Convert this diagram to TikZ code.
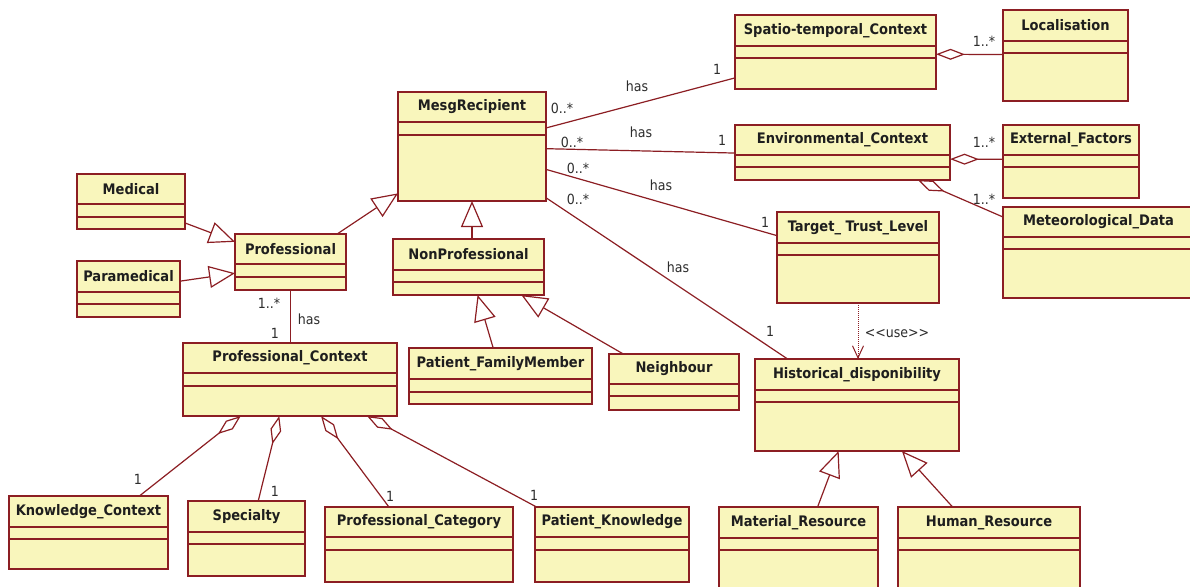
\documentclass[tikz,border=0pt]{standalone}
\usepackage{fontspec}
\newfontfamily\labelfont{DejaVu Sans Condensed}
\usetikzlibrary{arrows.meta,calc}
\definecolor{clsfill}{RGB}{249,246,188}
\definecolor{clsdraw}{RGB}{140,30,35}
\definecolor{txt}{RGB}{30,30,30}
\definecolor{lbl}{RGB}{45,45,45}
\tikzset{
  cls/.style={draw=clsdraw, fill=clsfill, line width=1.5pt, inner sep=0pt, outer sep=0pt, rectangle},
  clstitle/.style={inner sep=0pt, text=txt, font=\labelfont\bfseries\fontsize{14.5}{16}\selectfont},
  divline/.style={draw=clsdraw, line width=1.4pt},
  assoc/.style={draw=clsdraw, line width=1.2pt},
  gen/.style={draw=clsdraw, line width=1.2pt, -{Triangle[open, length=26pt, width=22pt]}},
  aggr/.style={draw=clsdraw, line width=1.2pt, {Diamond[open, length=29pt, width=11pt]}-},
  dep/.style={draw=clsdraw, line width=1pt, densely dotted, -{Straight Barb[length=12pt, width=11pt]}},
  mult/.style={inner sep=0pt, text=lbl, font=\labelfont\fontsize{14}{16}\selectfont},
}
\newcommand\umlcls[8]{%
  \node[cls, minimum width={(#4-#2)*1pt}, minimum height={(#5-#3)*1pt}] (#1) at ({(#2+#4)/2},{(#3+#5)/2}) {};
  \node[clstitle] (#1-t) at ({(#2+#4)/2},{(#3+#6)/2}) {#8};
  \draw[divline] (#2,#6) -- (#4,#6) (#2,#7) -- (#4,#7);
}
\begin{document}
\begin{tikzpicture}[x=1pt,y=-1pt]
\useasboundingbox (0,0) rectangle (1190,586);
\clip (0,0) rectangle (1190,586);
\fill[white] (0,0) rectangle (1190,586);
% classes
\umlcls{spat}{735}{15}{936}{89}{46}{58}{Spatio-temporal\_Context}
\umlcls{loc}{1003}{10}{1128}{101}{41}{53}{Localisation}
\umlcls{mesg}{398}{92}{546}{201}{122}{135}{MesgRecipient}
\umlcls{env}{735}{125}{950}{180}{155}{167}{Environmental\_Context}
\umlcls{ext}{1003}{125}{1139}{198}{155}{167}{External\_Factors}
\umlcls{met}{1003}{207}{1194}{298}{237}{249}{Meteorological\_Data}
\umlcls{tgt}{777}{212}{939}{303}{243}{255}{Target\_ Trust\_Level}
\umlcls{med}{77}{174}{185}{229}{204}{217}{Medical}
\umlcls{para}{77}{261}{180}{317}{292}{304}{Paramedical}
\umlcls{prof}{235}{234}{346}{290}{264}{277}{Professional}
\umlcls{nonp}{393}{239}{544}{295}{270}{282}{NonProfessional}
\umlcls{pfm}{409}{348}{592}{404}{379}{392}{Patient\_FamilyMember}
\umlcls{nbr}{609}{354}{739}{410}{384}{396}{Neighbour}
\umlcls{hist}{755}{359}{959}{451}{390}{402}{Historical\_disponibility}
\umlcls{pctx}{183}{343}{397}{416}{373}{386}{Professional\_Context}
\umlcls{know}{9}{496}{168}{569}{527}{539}{Knowledge\_Context}
\umlcls{spec}{188}{501}{305}{576}{532}{544}{Specialty}
\umlcls{pcat}{325}{507}{513}{582}{537}{550}{Professional\_Category}
\umlcls{pknow}{535}{507}{689}{582}{537}{550}{Patient\_Knowledge}
\umlcls{mat}{719}{507}{878}{600}{538}{550}{Material\_Resource}
\umlcls{hum}{898}{507}{1080}{600}{538}{550}{Human\_Resource}
% associations
\draw[assoc] ($(mesg.north east)!0.33!(mesg.south east)$) -- ($(spat.north west)!0.85!(spat.south west)$);
\draw[assoc] ($(mesg.north east)!0.52!(mesg.south east)$) -- ($(env.north west)!0.51!(env.south west)$);
\draw[assoc] ($(mesg.north east)!0.71!(mesg.south east)$) -- ($(tgt.north west)!0.26!(tgt.south west)$);
\draw[assoc] ($(mesg.north east)!0.97!(mesg.south east)$) -- ($(hist.north west)!0.16!(hist.north east)$);
\draw[assoc] (prof.south) -- (prof.south |- pctx.north);
% generalizations
\draw[gen] ($(med.north east)!0.89!(med.south east)$) -- ($(prof.north west)!0.14!(prof.south west)$);
\draw[gen] ($(para.north east)!0.36!(para.south east)$) -- ($(prof.north west)!0.70!(prof.south west)$);
\draw[gen] ($(prof.north west)!0.92!(prof.north east)$) -- ($(mesg.north west)!0.93!(mesg.south west)$);
\draw[gen] (nonp.north -| mesg.south) -- (mesg.south);
\draw[gen] ($(pfm.north west)!0.46!(pfm.north east)$) -- ($(nonp.south west)!0.56!(nonp.south east)$);
\draw[gen] ($(nbr.north west)!0.11!(nbr.north east)$) -- ($(nonp.south west)!0.85!(nonp.south east)$);
\draw[gen] ($(mat.north west)!0.62!(mat.north east)$) -- ($(hist.south west)!0.41!(hist.south east)$);
\draw[gen] ($(hum.north west)!0.30!(hum.north east)$) -- ($(hist.south west)!0.72!(hist.south east)$);
% aggregations
\draw[aggr] ($(spat.north east)!0.53!(spat.south east)$) -- ($(loc.north west)!0.49!(loc.south west)$);
\draw[aggr] ($(env.north east)!0.62!(env.south east)$) -- ($(ext.north west)!0.47!(ext.south west)$);
\draw[aggr] ($(env.south west)!0.85!(env.south east)$) -- ($(met.north west)!0.11!(met.south west)$);
\draw[aggr] ($(pctx.south west)!0.27!(pctx.south east)$) -- ($(know.north west)!0.82!(know.north east)$);
\draw[aggr] ($(pctx.south west)!0.45!(pctx.south east)$) -- ($(spec.north west)!0.60!(spec.north east)$);
\draw[aggr] ($(pctx.south west)!0.645!(pctx.south east)$) -- ($(pcat.north west)!0.34!(pcat.north east)$);
\draw[aggr] ($(pctx.south west)!0.86!(pctx.south east)$) -- ($(pknow.north west)!0.01!(pknow.north east)$);
% dependency
\draw[dep] (tgt.south) -- (tgt.south |- hist.north);
% labels
\node[mult] (l1) at (562,108) {0..*};
\node[mult] (l2) at (637,86) {has};
\node[mult] (l3) at (717,69) {1};
\node[mult] (l4) at (572,142) {0..*};
\node[mult] (l5) at (641,132) {has};
\node[mult] (l6) at (722,140) {1};
\node[mult] (l7) at (578,168) {0..*};
\node[mult] (l8) at (661,185) {has};
\node[mult] (l9) at (765,222) {1};
\node[mult] (l10) at (578,199) {0..*};
\node[mult] (l11) at (678,267) {has};
\node[mult] (l12) at (770,331) {1};
\node[mult] (l13) at (984,41) {1..*};
\node[mult] (l14) at (984,142) {1..*};
\node[mult] (l15) at (984,199) {1..*};
\node[mult] (l16) at (269,303) {1..*};
\node[mult] (l17) at (309,319) {has};
\node[mult] (l18) at (275,333) {1};
\node[mult] (l19) at (138,479) {1};
\node[mult] (l20) at (275,491) {1};
\node[mult] (l21) at (390,496) {1};
\node[mult] (l22) at (534,495) {1};
\node[mult] (l23) at (897,334) {<{}<use>{}>};
\end{tikzpicture}
\end{document}
